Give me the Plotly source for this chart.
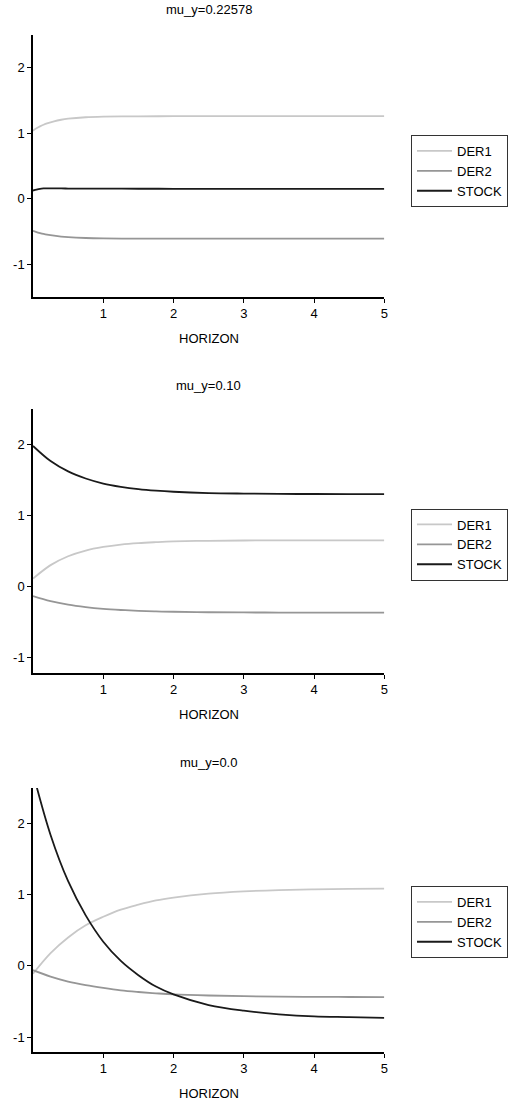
import plotly.graph_objects as go

# ---- data ----
series_names = ["DER1", "DER2", "STOCK"]
panel_titles = ["mu_y=0.22578", "mu_y=0.10", "mu_y=0.0"]
x_tick_vals = [1, 2, 3, 4, 5]
y_tick_vals = [-1, 0, 1, 2]
y_tick_text = ["-1", "0", "1", "2"]

horizon_p1 = [0, 0.05, 0.1, 0.15, 0.2, 0.3, 0.4, 0.5, 0.75, 1, 1.5, 2, 3, 4, 5]
der1_p1 = [1.04, 1.075, 1.105, 1.13, 1.151, 1.183, 1.206, 1.222, 1.244, 1.253, 1.258, 1.26, 1.26, 1.26, 1.26]
der2_p1 = [-0.49, -0.508, -0.523, -0.536, -0.547, -0.564, -0.577, -0.586, -0.599, -0.605, -0.609, -0.61, -0.61, -0.61, -0.61]
stock_p1 = [0.125, 0.14, 0.152, 0.157, 0.158, 0.158, 0.157, 0.156, 0.155, 0.154, 0.153, 0.152, 0.152, 0.152, 0.152]

horizon_p2 = [0, 0.25, 0.5, 0.75, 1, 1.25, 1.5, 1.75, 2, 2.5, 3, 3.5, 4, 4.5, 5]
der1_p2 = [0.11, 0.30, 0.425, 0.505, 0.556, 0.59, 0.611, 0.624, 0.634, 0.643, 0.647, 0.649, 0.65, 0.65, 0.65]
der2_p2 = [-0.137, -0.208, -0.258, -0.292, -0.316, -0.332, -0.344, -0.352, -0.357, -0.364, -0.367, -0.368, -0.369, -0.37, -0.37]
stock_p2 = [1.98, 1.767, 1.621, 1.521, 1.45, 1.404, 1.371, 1.349, 1.334, 1.316, 1.308, 1.303, 1.302, 1.301, 1.30]

horizon_p3 = [0, 0.25, 0.5, 0.75, 1, 1.25, 1.5, 1.75, 2, 2.5, 3, 3.5, 4, 4.5, 5]
der1_p3 = [-0.11, 0.18, 0.40, 0.57, 0.69, 0.79, 0.86, 0.92, 0.96, 1.015, 1.047, 1.066, 1.076, 1.082, 1.085]
der2_p3 = [-0.06, -0.15, -0.22, -0.27, -0.31, -0.344, -0.367, -0.385, -0.40, -0.416, -0.426, -0.432, -0.435, -0.437, -0.438]
stock_p3 = [2.71, 1.84, 1.19, 0.71, 0.34, 0.07, -0.13, -0.29, -0.40, -0.55, -0.63, -0.68, -0.71, -0.72, -0.73]

# ---- styling / layout ----
W, H = 513, 1106
FONT = "Liberation Sans, Arial, Helvetica, sans-serif"
colors = {"DER1": "#c8c8c8", "DER2": "#969696", "STOCK": "#1a1a1a"}

panels = [
    dict(x=horizon_p1, ys=[der1_p1, der2_p1, stock_p1], yrange=[-1.5, 2.5], top=35, bottom=297, smooth=0.8),
    dict(x=horizon_p2, ys=[der1_p2, der2_p2, stock_p2], yrange=[-1.22, 2.5], top=409, bottom=673, smooth=1.0),
    dict(x=horizon_p3, ys=[der1_p3, der2_p3, stock_p3], yrange=[-1.21, 2.5], top=788, bottom=1052, smooth=1.0),
]
title_y = [10, 385, 762]
legend_mid = [171, 544.5, 922]
x_left, x_right = 33, 384.3

fig = go.Figure()
layout = dict(
    width=W, height=H,
    margin=dict(l=0, r=0, t=0, b=0),
    paper_bgcolor="white", plot_bgcolor="white",
    font=dict(family=FONT, size=13, color="black"),
    showlegend=True,
    annotations=[],
)

for i, p in enumerate(panels):
    n = "" if i == 0 else str(i + 1)
    leg = "legend" if i == 0 else f"legend{i+1}"
    for name, yv in zip(series_names, p["ys"]):
        fig.add_trace(go.Scatter(
            x=p["x"], y=yv, mode="lines", name=name,
            line=dict(color=colors[name], width=1.8, shape="spline", smoothing=p["smooth"]),
            xaxis=f"x{n}", yaxis=f"y{n}", legend=leg, hoverinfo="skip",
        ))
    dom_y = [1 - p["bottom"] / H, 1 - p["top"] / H]
    layout[f"xaxis{n}"] = dict(
        domain=[x_left / W, x_right / W], range=[0, 5], anchor=f"y{n}",
        tickvals=x_tick_vals, ticks="outside", ticklen=4, tickcolor="black",
        showline=True, linecolor="black", linewidth=1.5, showgrid=False, zeroline=False,
        tickfont=dict(size=13), fixedrange=True, automargin=False,
    )
    layout[f"yaxis{n}"] = dict(
        domain=dom_y, range=p["yrange"], anchor=f"x{n}",
        tickvals=y_tick_vals, ticktext=y_tick_text, ticks="outside", ticklen=4, tickcolor="black",
        showline=True, linecolor="black", linewidth=1.5, showgrid=False, zeroline=False,
        tickfont=dict(size=13), fixedrange=True, automargin=False,
    )
    layout[leg] = dict(
        x=411 / W, xanchor="left", y=1 - legend_mid[i] / H, yanchor="middle",
        bordercolor="#333333", borderwidth=1, bgcolor="white",
        font=dict(size=13), tracegroupgap=0, itemwidth=35,
    )
    layout["annotations"].append(dict(
        text=panel_titles[i], xref="paper", yref="paper",
        x=(x_left + x_right) / 2 / W, y=1 - title_y[i] / H,
        xanchor="center", yanchor="middle", showarrow=False, font=dict(size=13),
    ))
    layout["annotations"].append(dict(
        text="HORIZON", xref="paper", yref="paper",
        x=(x_left + x_right) / 2 / W, y=1 - (p["bottom"] + 41) / H,
        xanchor="center", yanchor="middle", showarrow=False, font=dict(size=13),
    ))

fig.update_layout(**layout)
fig.write_html("out.html")
